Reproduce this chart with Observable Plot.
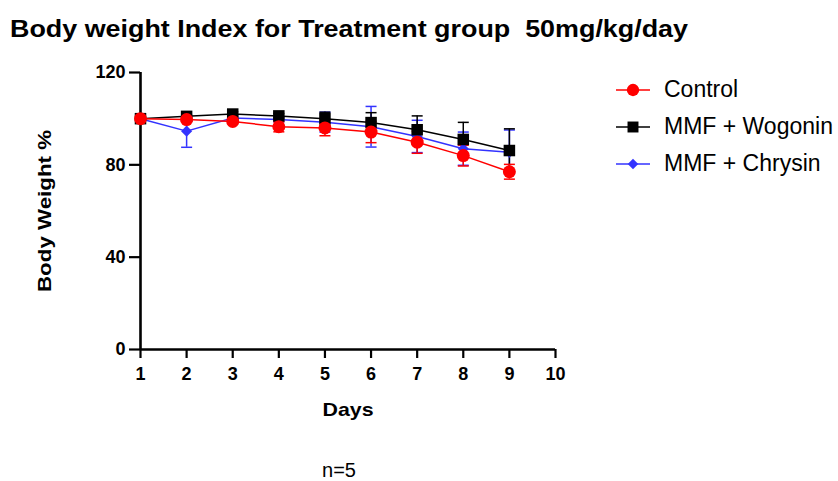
<!DOCTYPE html>
<html>
<head>
<meta charset="utf-8">
<script src="https://cdn.jsdelivr.net/npm/d3@7"></script>
<script src="https://cdn.jsdelivr.net/npm/@observablehq/plot@0.6"></script>
<style>
  body { margin: 0; background: #fff; font-family: "Liberation Sans", Arial, sans-serif; }
  #wrap { position: relative; width: 838px; height: 481px; overflow: hidden; }
  #title { position: absolute; left: 10px; top: 16px; font-size: 23px; line-height: 26px; font-weight: bold; color: #000; white-space: pre; transform-origin: 0 0; }
  #chart { position: absolute; left: 0; top: 55px; }
  #legend { position: absolute; left: 615px; top: 71px; }
  .item { display: flex; align-items: center; height: 37px; font-size: 23px; color: #000; }
  .item svg { margin-right: 13px; }
  #caption { position: absolute; left: 339px; top: 459px; font-size: 20px; line-height: 22px; color: #000; transform: translateX(-50%); white-space: pre; }
</style>
</head>
<body>
<div id="wrap">
  <div id="title">Body weight Index for Treatment group  50mg/kg/day</div>
  <div id="chart"></div>
  <div id="legend"></div>
  <div id="caption">n=5</div>
</div>
<script>
const days = [1, 2, 3, 4, 5, 6, 7, 8, 9];
const controlMean = [100, 99.6, 98.8, 96.5, 96, 94.2, 89.8, 84, 77];
const controlSD   = [0, 0.8, 1, 2.2, 3.4, 4.6, 4.8, 4.5, 3.2];
const wogoninMean = [100, 101, 102, 101.2, 100, 98.3, 95.2, 91, 86.2];
const wogoninSD   = [0, 0.6, 1, 1, 2.8, 4.3, 6, 7.4, 9.4];
const chrysinMean = [100, 94.6, 100.3, 99.6, 98.5, 96.5, 92.3, 87, 85.5];
const chrysinSD   = [0, 7, 1, 1, 4.3, 8.8, 7, 7.2, 9.6];
const seriesNames = ["Control", "MMF + Wogonin", "MMF + Chrysin"];
const seriesColors = ["#ff0000", "#000000", "#3333ff"];
const yTicks = [0, 40, 80, 120];
const xTicks = [1, 2, 3, 4, 5, 6, 7, 8, 9, 10];

const means = [controlMean, wogoninMean, chrysinMean];
const sds = [controlSD, wogoninSD, chrysinSD];
const rows = [];
seriesNames.forEach((s, i) => days.forEach((d, j) => rows.push({
  series: s, day: d, mean: means[i][j], lo: means[i][j] - sds[i][j], hi: means[i][j] + sds[i][j]
})));
// draw order: chrysin, wogonin, control (control on top)
const order = ["MMF + Chrysin", "MMF + Wogonin", "Control"];
const byS = s => rows.filter(r => r.series === s);

const capSymbol = { draw(ctx, size) { const w = 5.5; ctx.moveTo(-w, 0); ctx.lineTo(w, 0); } };
const shapes = { "Control": "circle", "MMF + Wogonin": "square", "MMF + Chrysin": "diamond2" };
const sizes = { "Control": 6.5, "MMF + Wogonin": 6.5, "MMF + Chrysin": 5 };
const colorOf = s => seriesColors[seriesNames.indexOf(s)];

const marks = [];
for (const s of order) {
  const data = byS(s);
  const c = colorOf(s);
  marks.push(Plot.ruleX(data, { x: "day", y1: "lo", y2: "hi", stroke: c, strokeWidth: 1.5 }));
  marks.push(Plot.dot(data, { x: "day", y: "hi", symbol: capSymbol, stroke: c, strokeWidth: 1.5, r: 4 }));
  marks.push(Plot.dot(data, { x: "day", y: "lo", symbol: capSymbol, stroke: c, strokeWidth: 1.5, r: 4 }));
}
for (const s of order) {
  const data = byS(s);
  const c = colorOf(s);
  marks.push(Plot.line(data, { x: "day", y: "mean", stroke: c, strokeWidth: 1.5 }));
  marks.push(Plot.dot(data, { x: "day", y: "mean", symbol: shapes[s], fill: c, stroke: "none", r: sizes[s] }));
}

const chart = Plot.plot({
  width: 838,
  height: 380,
  marginLeft: 140,
  marginRight: 283,
  marginTop: 17,
  marginBottom: 86,
  style: { fontFamily: "Liberation Sans, Arial, sans-serif", color: "#000", background: "transparent" },
  x: { domain: [1, 10] },
  y: { domain: [0, 120] },
  marks: [
    Plot.axisY({ ticks: yTicks, tickSize: 11, strokeWidth: 2.2, fontSize: 18, fontWeight: "bold", tickPadding: 4,
                 label: "Body Weight %", labelAnchor: "center", labelArrow: "none", labelOffset: 103 }),
    Plot.axisX({ ticks: xTicks, tickSize: 9, strokeWidth: 2.2, fontSize: 18, fontWeight: "bold", tickPadding: 9,
                 label: "Days", labelAnchor: "center", labelArrow: "none", labelOffset: 66 }),
    Plot.ruleX([1], { strokeWidth: 2.6 }),
    Plot.ruleY([0], { x1: 1, x2: 10, strokeWidth: 2.6 }),
    ...marks
  ]
});
document.getElementById("chart").appendChild(chart);

// stretch axis titles as in the original export
const yl = chart.querySelector('g[aria-label="y-axis label"] text');
if (yl) { yl.setAttribute("font-size", 19); yl.setAttribute("textLength", 162); yl.setAttribute("lengthAdjust", "spacingAndGlyphs"); }
const xl = chart.querySelector('g[aria-label="x-axis label"] text');
if (xl) { xl.setAttribute("font-size", 19); xl.setAttribute("textLength", 51); xl.setAttribute("lengthAdjust", "spacingAndGlyphs"); }

// title stretch
const title = document.getElementById("title");
const tw = title.getBoundingClientRect().width;
title.style.transform = `scaleX(${678 / tw})`;

// Legend
const legend = document.getElementById("legend");
const symPaths = { "Control": d3.symbol(d3.symbolCircle, 120)(), "MMF + Wogonin": d3.symbol(d3.symbolSquare, 120)(), "MMF + Chrysin": d3.symbol(d3.symbolDiamond2, 70)() };
seriesNames.forEach((s, i) => {
  const div = document.createElement("div");
  div.className = "item";
  div.innerHTML = `<svg width="36" height="20"><line x1="1" x2="35" y1="10" y2="10" stroke="${seriesColors[i]}" stroke-width="1.5"/>` +
    `<path transform="translate(18,10)" d="${symPaths[s]}" fill="${seriesColors[i]}"/></svg><span>${s}</span>`;
  legend.appendChild(div);
});
</script>
</body>
</html>
